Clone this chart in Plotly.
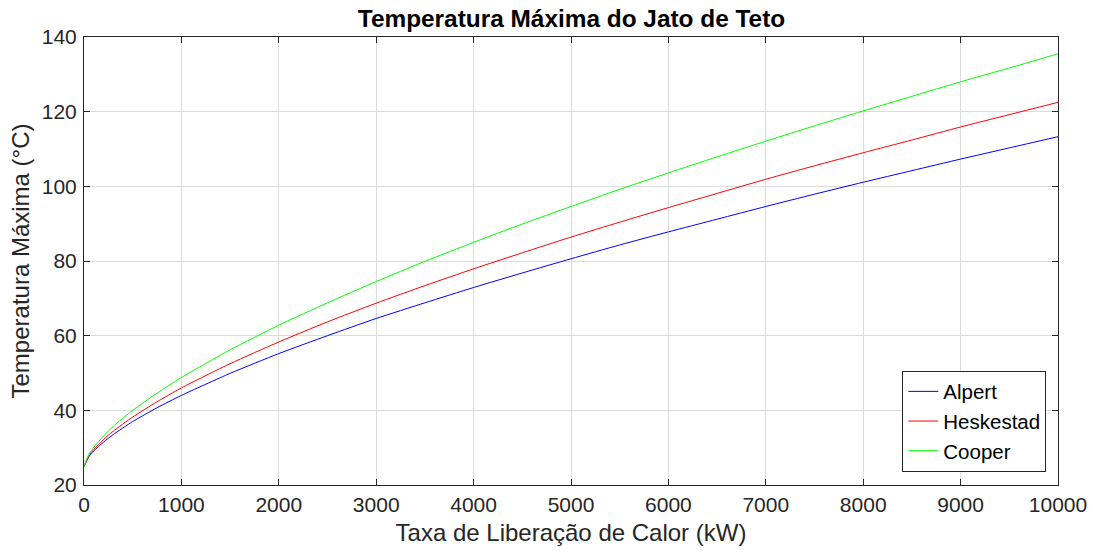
import plotly.graph_objects as go

Q = [0, 50, 100, 200, 300, 500, 750, 1000, 1500, 2000, 2500, 3000, 3500, 4000, 4500,
     5000, 5500, 6000, 6500, 7000, 7500, 8000, 8500, 9000, 9500, 10000]
alpert = [25.0, 27.6, 29.1, 31.5, 33.5, 37.0, 40.7, 44.0, 49.9, 55.2, 60.0, 64.6, 68.8, 72.9, 76.8,
          80.6, 84.3, 87.8, 91.2, 94.6, 97.9, 101.1, 104.2, 107.3, 110.3, 113.3]
heskestad = [25.0, 27.8, 29.5, 32.2, 34.4, 38.2, 42.3, 46.0, 52.5, 58.3, 63.7, 68.7, 73.4, 77.9, 82.2,
             86.4, 90.4, 94.3, 98.1, 101.9, 105.5, 109.0, 112.4, 115.9, 119.2, 122.5]
cooper = [25.0, 28.2, 30.1, 33.1, 35.7, 40.0, 44.6, 48.8, 56.2, 62.8, 68.8, 74.5, 79.9, 85.0, 89.9,
          94.6, 99.2, 103.6, 107.9, 112.1, 116.2, 120.2, 124.1, 128.0, 131.7, 135.5]

series = [("Alpert", alpert, "#0000FF"), ("Heskestad", heskestad, "#FF0000"), ("Cooper", cooper, "#00FF00")]

fig = go.Figure()
for name, vals, col in series:
    fig.add_trace(go.Scatter(x=Q, y=vals, mode="lines", name=name,
                             line=dict(color=col, width=1, shape="spline", smoothing=0.6)))

FONT = "Liberation Sans, Arial"
axis_common = dict(showline=True, linecolor="#262626", linewidth=1, mirror="ticks",
                   ticks="inside", ticklen=6, tickcolor="#262626",
                   showgrid=True, gridcolor="#DCDCDC", gridwidth=1, zeroline=False,
                   automargin=False,
                   tickfont=dict(family=FONT, size=21, color="#262626"),
                   title_font=dict(family=FONT, size=24, color="#262626"))

fig.update_layout(
    width=1093, height=552,
    paper_bgcolor="white", plot_bgcolor="white",
    margin=dict(l=84, r=35, t=37, b=67),
    title=dict(text="<b>Temperatura Máxima do Jato de Teto</b>", x=571.5 / 1093, xanchor="center",
               y=1 - 18.5 / 552, yanchor="middle", automargin=False,
               font=dict(family=FONT, size=24.4, color="black")),
    xaxis=dict(range=[0, 10000], tickmode="linear", tick0=0, dtick=1000, tickformat="d",
               ticklabelstandoff=1,
               title=dict(text="Taxa de Liberação de Calor (kW)", standoff=8), **axis_common),
    yaxis=dict(range=[20, 140], tickmode="linear", tick0=20, dtick=20, tickformat="d",
               ticklabelstandoff=2,
               title=dict(text="Temperatura Máxima (°C)", standoff=5), **axis_common),
    legend=dict(x=0.988, y=0.03, xanchor="right", yanchor="bottom",
                bgcolor="white", bordercolor="#262626", borderwidth=1,
                font=dict(family=FONT, size=20.5, color="black"),
                tracegroupgap=0, itemwidth=30),
    showlegend=True,
)

fig.write_html("out.html", config={"displayModeBar": False},
               post_script="document.body.style.margin='0px';document.body.style.overflow='hidden';")
